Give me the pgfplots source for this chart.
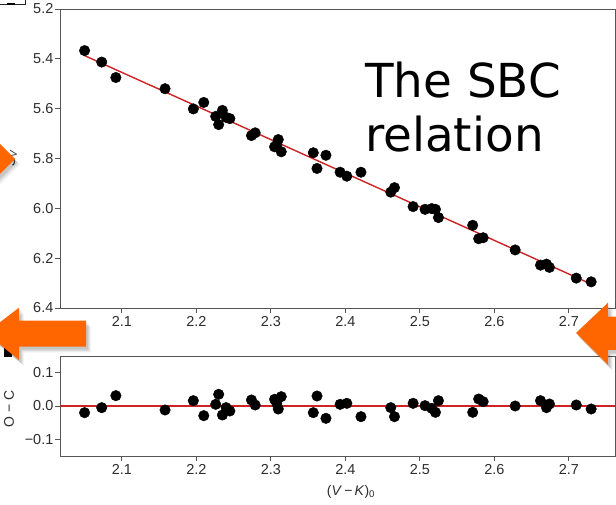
\documentclass[border=0pt]{standalone}
\usepackage{fontspec}
\setmainfont{Liberation Sans}
\newfontfamily\titlefont{DejaVu Sans}
\usepackage{pgfplots}
\pgfplotsset{compat=1.18}
\usepackage{pgfplotstable}

\definecolor{fitred}{RGB}{205,35,35}
\definecolor{arroworange}{RGB}{255,102,0}
\definecolor{framegray}{RGB}{85,85,85}
\definecolor{labelgray}{RGB}{45,45,45}

% (V-K)_0, surface brightness S_V, residual O-C
\pgfplotstableread{
x     s      oc
2.050 5.367 -0.020
2.073 5.413 -0.005
2.092 5.475  0.031
2.158 5.520 -0.012
2.196 5.601  0.016
2.210 5.575 -0.029
2.226 5.631  0.005
2.230 5.664  0.035
2.235 5.607 -0.027
2.240 5.635 -0.005
2.245 5.640 -0.015
2.274 5.708  0.018
2.279 5.697  0.003
2.305 5.753  0.020
2.308 5.745  0.008
2.310 5.724 -0.009
2.314 5.773  0.028
2.357 5.777 -0.020
2.362 5.840  0.030
2.374 5.787 -0.037
2.393 5.855  0.005
2.402 5.871  0.008
2.421 5.855 -0.032
2.461 5.935 -0.005
2.466 5.917 -0.032
2.491 5.993  0.008
2.507 6.004  0.001
2.516 6.001 -0.007
2.521 6.004 -0.019
2.525 6.037  0.016
2.571 6.068 -0.019
2.579 6.122  0.021
2.585 6.118  0.013
2.628 6.167  0.000
2.662 6.228  0.016
2.670 6.224 -0.005
2.674 6.237  0.006
2.710 6.280  0.003
2.730 6.295 -0.009
}\sbcdata

\pgfplotsset{
  sbcpanel/.style={
    scale only axis, width=555bp, anchor=south west,
    xmin=2.017, xmax=2.762,
    xtick={2.1,2.2,2.3,2.4,2.5,2.6,2.7},
    axis line style={framegray, line width=0.8bp},
    tick style={framegray, line width=0.8bp},
    major tick length=5bp, tick align=outside,
    xtick pos=left, ytick pos=left,
    ticklabel style={font=\fontsize{14.5}{16}\selectfont, text=labelgray},
    yticklabel style={inner sep=1.5bp},
    /pgf/number format/assume math mode=true,
    /pgf/number format/fixed,
    /pgf/number format/precision=1,
    /pgf/number format/fixed zerofill,
  },
  dots/.style={only marks, mark=*, mark size=5.3pt, black},
  fit/.style={fitred, line width=1.4bp},
}

\begin{document}
\begin{tikzpicture}
\useasboundingbox (0,0) rectangle (616bp,505bp);

% upper panel: S_V against colour
\begin{axis}[sbcpanel, at={(60bp,197bp)}, height=299bp,
  y dir=reverse, ymin=5.2, ymax=6.4,
  ytick={5.2,5.4,5.6,5.8,6.0,6.2,6.4}]
  \addplot[fit] coordinates {(2.05,5.387) (2.73,6.304)};
  \addplot[dots] table[x=x, y=s] {\sbcdata};
\end{axis}

% lower panel: residuals
\begin{axis}[sbcpanel, at={(60bp,49bp)}, height=100bp,
  ymin=-0.15, ymax=0.15,
  ytick={-0.1,0,0.1}, yticklabels={−0.1,0.0,0.1}]
  \addplot[fit] coordinates {(2.017,0) (2.762,0)};
  \addplot[dots] table[x=x, y=oc] {\sbcdata};
\end{axis}

% axis titles
\node[rotate=90, font=\fontsize{14}{16}\selectfont, text=labelgray] at (11bp,347bp) {\textit{S}\textsubscript{\textit{V}}};
\node[rotate=90, font=\fontsize{14}{16}\selectfont, text=labelgray] at (9bp,96bp) {O − C};
\node[anchor=base, font=\fontsize{14}{16}\selectfont, text=labelgray] at (351bp,10bp) {(\textit{V}\,−\,\textit{K})\textsubscript{0}};

% caption text
\node[anchor=base west, inner sep=0pt, font=\titlefont\fontsize{47}{54}\selectfont] at (365bp,407.3bp) {The SBC};
\node[anchor=base west, inner sep=0pt, font=\titlefont\fontsize{47}{54}\selectfont] at (365bp,353.3bp) {relation};

% panel marks at the left border
\draw[black!85, line width=0.8bp] (0bp,501bp) -- (25bp,501bp) -- (25bp,506bp);
\fill[black] (7bp,499.5bp) rectangle (15bp,501.5bp);
\fill[black] (4bp,148bp) rectangle (12bp,158bp);

% pointer arrows with soft drop shadows
\foreach \dx/\dy/\op in {5/-6/0.04, 4/-5/0.06, 3/-4/0.07, 2/-3/0.08} {
  \fill[black, opacity=\op, shift={(\dx bp,\dy bp)}]
    (-14bp,172bp) -- (19bp,197.3bp) -- (19bp,184.3bp) -- (86bp,184.3bp)
    -- (86bp,158.3bp) -- (19bp,158.3bp) -- (19bp,145bp) -- cycle;
  \fill[black, opacity=\op, shift={(\dx bp,\dy bp)}]
    (576bp,172bp) -- (608bp,202.3bp) -- (608bp,188.3bp) -- (640bp,188.3bp)
    -- (640bp,155bp) -- (608bp,155bp) -- (608bp,140bp) -- cycle;
  \fill[black, opacity=\op, shift={(\dx bp,\dy bp)}]
    (-20bp,381bp) -- (15bp,346bp) -- (-20bp,311bp) -- cycle;
}
\fill[arroworange]
  (-14bp,172bp) -- (19bp,197.3bp) -- (19bp,184.3bp) -- (86bp,184.3bp)
  -- (86bp,158.3bp) -- (19bp,158.3bp) -- (19bp,145bp) -- cycle;
\fill[arroworange]
  (576bp,172bp) -- (608bp,202.3bp) -- (608bp,188.3bp) -- (640bp,188.3bp)
  -- (640bp,155bp) -- (608bp,155bp) -- (608bp,140bp) -- cycle;
\fill[arroworange] (-20bp,381bp) -- (15bp,346bp) -- (-20bp,311bp) -- cycle;
\end{tikzpicture}
\end{document}
